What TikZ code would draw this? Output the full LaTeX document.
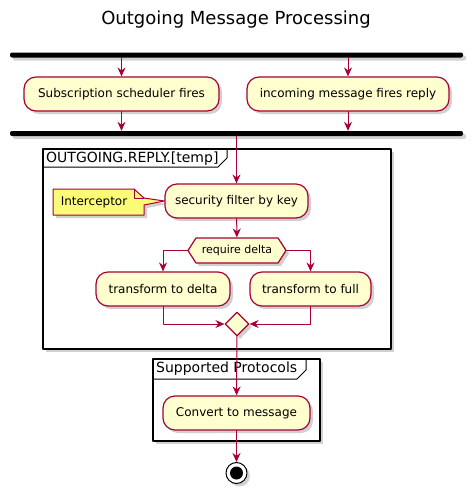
\documentclass[tikz,border=0pt]{standalone}
\usepackage{fontspec}
\setmainfont{DejaVu Sans}
\usetikzlibrary{arrows.meta, positioning, shapes.geometric, shapes.symbols, shadows}
\definecolor{umlred}{HTML}{A80036}
\definecolor{umlfill}{HTML}{FEFECE}
\definecolor{notefill}{HTML}{FBFB77}

\begin{document}
\begin{tikzpicture}[x=1pt, y=-1pt, line cap=round, line join=round,
    >={Stealth[length=9pt,width=8pt,inset=3pt]},
    umlshadow/.style={drop shadow={shadow xshift=3pt, shadow yshift=-3pt, opacity=0.3, fill=black!60}},
    activity/.style={rectangle, rounded corners=12pt, draw=umlred, line width=1.2pt, fill=umlfill,
        minimum height=34pt, inner sep=0pt, font=\fontsize{12}{14}\selectfont, umlshadow},
    bar/.style={rectangle, rounded corners=2pt, fill=black, minimum height=5pt, minimum width=453pt,
        inner sep=0pt, umlshadow},
    frame/.style={rectangle, draw=black, line width=1.5pt, fill=white, inner sep=0pt, umlshadow},
    framelabel/.style={anchor=west, inner sep=0pt, font=\fontsize{14}{16}\selectfont},
    branch/.style={signal, signal to=east and west, signal pointer angle=115, draw=umlred,
        line width=1.2pt, fill=umlfill, minimum width=98pt, minimum height=25pt, inner sep=0pt,
        font=\fontsize{11}{13}\selectfont, umlshadow},
    merge/.style={diamond, aspect=1, draw=umlred, line width=1.2pt, fill=umlfill,
        minimum size=24pt, inner sep=0pt, umlshadow},
    note/.style={draw=umlred, line width=1pt, fill=notefill, umlshadow},
    flow/.style={->, draw=umlred, line width=1pt}]

    \useasboundingbox (0,0) rectangle (473,491);

    \node[font=\fontsize{18}{20}\selectfont] (title) at (236,20) {Outgoing Message Processing};

    % groups
    \node[frame, minimum width=348pt, minimum height=200pt] (replyFrame) at (217,249) {};
    \draw[line width=1pt] (43,167) -- (218,167) -- (227,158) -- (227,149);
    \node[framelabel] (replyLabel) at (46,158.5) {OUTGOING.REPLY.[temp]};

    \node[frame, minimum width=167pt, minimum height=82pt] (protoFrame) at (236.5,400) {};
    \draw[line width=1pt] (153,379) -- (297,379) -- (306,370) -- (306,359);
    \node[framelabel] (protoLabel) at (156,369) {Supported Protocols};

    % fork
    \node[bar] (forkTop) at (236.5,55) {};
    \node[activity, minimum width=195pt] (scheduler) at (121.5,94) {Subscription scheduler fires};
    \node[activity, minimum width=202pt] (incoming) at (348,94) {incoming message fires reply};
    \node[bar] (forkJoin) at (236.5,133.5) {};

    % reply processing
    \node[activity, minimum width=143pt] (filter) at (236.5,201) {security filter by key};
    \node[branch] (needDelta) at (237,250.5) {require delta};
    \node[activity, minimum width=134pt] (toDelta) at (163,289) {transform to delta};
    \node[activity, minimum width=121pt] (toFull) at (310.5,289) {transform to full};
    \node[merge] (joinDelta) at (237,324) {};

    \node[activity, minimum width=147pt] (convert) at (236.5,413) {Convert to message};

    \node[circle, draw=black, line width=1pt, fill=white, minimum size=21pt, inner sep=0pt, umlshadow] (stop) at (236.5,473) {};
    \node[circle, fill=black, minimum size=13pt, inner sep=0pt] (stopDot) at (stop) {};

    % note
    \draw[note] (53,189) -- (134,189) -- (144,198) -- (filter.west) -- (144,205) -- (144,215) -- (53,215) -- cycle;
    \draw[umlred, line width=1pt] (134,189) -- (134,198) -- (144,198);
    \node[font=\fontsize{12}{14}\selectfont, inner sep=0pt] (interceptor) at (94,202) {Interceptor};

    % flows
    \draw[flow] (forkTop.south -| scheduler) -- (scheduler);
    \draw[flow] (forkTop.south -| incoming) -- (incoming);
    \draw[flow] (scheduler) -- (scheduler |- forkJoin.north);
    \draw[flow] (incoming) -- (incoming |- forkJoin.north);
    \draw[flow] (forkJoin.south -| filter) -- (filter);
    \draw[flow] (filter) -- (needDelta);
    \draw[flow] (needDelta.west) -| (toDelta);
    \draw[flow] (needDelta.east) -| (toFull);
    \draw[flow] (toDelta) |- (joinDelta);
    \draw[flow] (toFull) |- (joinDelta);
    \draw[flow] (joinDelta) -- (convert);
    \draw[flow] (convert) -- (stop);
\end{tikzpicture}
\end{document}
